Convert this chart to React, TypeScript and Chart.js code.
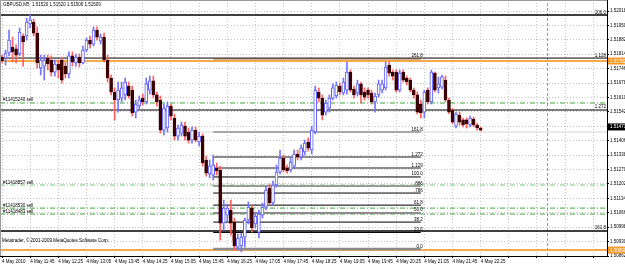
import React, { useEffect, useRef } from "react";
import { Chart, registerables } from "chart.js";

Chart.register(...registerables);

const title = "GBPUSD,M5  1.51520 1.51520 1.51506 1.51509";
const copyright = "Metatrader, \u00a9 2001-2009 MetaQuotes Software Corp.";

// time axis (bar index based, 5-minute bars starting 4 May 11:05)
const xLabels = [
  "4 May 2010", "4 May 11:45", "4 May 12:25", "4 May 13:05", "4 May 13:45", "4 May 14:25",
  "4 May 15:05", "4 May 15:45", "4 May 16:25", "4 May 17:05", "4 May 17:45", "4 May 18:25",
  "4 May 19:05", "4 May 19:45", "4 May 20:25", "4 May 21:05", "4 May 21:45", "4 May 22:25",
];
const xTickIdx = [0, 8, 16, 24, 32, 40, 48, 56, 64, 72, 80, 88, 96, 104, 112, 120, 128, 136, 144, 152, 160, 168];
const xMin = -0.57;
const xMax = 171.9;
const daySeparatorIdx = 155;

// price axis
const yTicks = [
  1.52018, 1.5195, 1.51882, 1.51814, 1.51746, 1.51678, 1.5161, 1.51542, 1.51474,
  1.51406, 1.51338, 1.5127, 1.51202, 1.51134, 1.51066, 1.50998, 1.5093, 1.50862,
];
const yMin = 1.50862;
const yMax = 1.5207;

const opens = [
  1.51801, 1.51796, 1.5182, 1.51848, 1.51839, 1.51815, 1.519, 1.519, 1.51957, 1.51966,
  1.51914, 1.51749, 1.51758, 1.51796, 1.51787, 1.5173, 1.51768, 1.51787, 1.51758, 1.51721,
  1.51806, 1.51773, 1.51801, 1.51773, 1.51834, 1.51881, 1.51862, 1.51928, 1.51876, 1.51895,
  1.51787, 1.51702, 1.51636, 1.51598, 1.51607, 1.51622, 1.51664, 1.51645, 1.51541, 1.5157,
  1.51607, 1.51589, 1.51645, 1.51688, 1.51622, 1.51598, 1.51456, 1.51466, 1.5157, 1.51513,
  1.51428, 1.51442, 1.51475, 1.51447, 1.51409, 1.51456, 1.514, 1.51428, 1.51315, 1.51249,
  1.51244, 1.51277, 1.51268, 1.51017, 1.51055, 1.51079, 1.51022, 1.50904, 1.50909, 1.50951,
  1.51032, 1.51088, 1.51013, 1.50975, 1.51055, 1.51093, 1.51183, 1.51112, 1.51197, 1.51258,
  1.51324, 1.51277, 1.51268, 1.51286, 1.51343, 1.51329, 1.51353, 1.514, 1.51362, 1.51447,
  1.51636, 1.51607, 1.51541, 1.5156, 1.51607, 1.51617, 1.51664, 1.51631, 1.51645, 1.5173,
  1.5165, 1.51631, 1.51674, 1.51636, 1.51645, 1.51631, 1.51589, 1.51622, 1.51645, 1.51655,
  1.51763, 1.5173, 1.5173, 1.51645, 1.5173, 1.51702, 1.51692, 1.51645, 1.51622, 1.51579,
  1.51541, 1.51645, 1.51589, 1.51725, 1.51655, 1.51659, 1.51692, 1.51598, 1.51551, 1.51475,
  1.51527, 1.51504, 1.51504, 1.5148, 1.51508, 1.5148, 1.51466,
];
const highs = [
  1.5181, 1.51834, 1.51928, 1.51895, 1.51858, 1.51938, 1.5191, 1.51985, 1.51999, 1.5198,
  1.51943, 1.5181, 1.5181, 1.5181, 1.51806, 1.51787, 1.51787, 1.51801, 1.51777, 1.51825,
  1.51825, 1.51815, 1.51815, 1.51853, 1.51891, 1.519, 1.51943, 1.51943, 1.5191, 1.51914,
  1.5181, 1.51716, 1.51655, 1.51683, 1.51683, 1.51702, 1.51683, 1.51664, 1.51598, 1.51617,
  1.51626, 1.51702, 1.51711, 1.51711, 1.51636, 1.51617, 1.51579, 1.51589, 1.51579, 1.51532,
  1.5148, 1.51494, 1.51494, 1.51466, 1.51471, 1.51471, 1.51447, 1.51438, 1.51334, 1.51315,
  1.51338, 1.51301, 1.51286, 1.51126, 1.51107, 1.51126, 1.51041, 1.50966, 1.5097, 1.51041,
  1.51117, 1.51102, 1.51069, 1.51079, 1.51112, 1.51192, 1.51202, 1.51216, 1.51291, 1.51362,
  1.51338, 1.51291, 1.51324, 1.51362, 1.51362, 1.51386, 1.51409, 1.51419, 1.51475, 1.51664,
  1.51655, 1.51622, 1.51598, 1.51622, 1.51674, 1.51683, 1.51678, 1.51702, 1.51777, 1.5174,
  1.51664, 1.51692, 1.51683, 1.51655, 1.51655, 1.51645, 1.51631, 1.51692, 1.51692, 1.51777,
  1.51777, 1.5174, 1.5174, 1.5174, 1.5174, 1.51711, 1.51702, 1.51655, 1.51636, 1.51598,
  1.51645, 1.51655, 1.5174, 1.5173, 1.51707, 1.51716, 1.51711, 1.51607, 1.5156, 1.51541,
  1.51541, 1.51513, 1.51513, 1.51522, 1.51518, 1.51489, 1.51471,
];
const lows = [
  1.51773, 1.51763, 1.51806, 1.51777, 1.51773, 1.51806, 1.51758, 1.51881, 1.51938, 1.519,
  1.51749, 1.51716, 1.51692, 1.5174, 1.51711, 1.51711, 1.51702, 1.51678, 1.51702, 1.51702,
  1.51758, 1.51758, 1.51754, 1.51768, 1.51825, 1.51843, 1.51853, 1.51881, 1.51862, 1.51777,
  1.51683, 1.51622, 1.51504, 1.51541, 1.51589, 1.51598, 1.51607, 1.51522, 1.51513, 1.51551,
  1.51574, 1.51579, 1.51626, 1.51607, 1.5157, 1.51442, 1.51433, 1.51447, 1.51504, 1.51409,
  1.51409, 1.51428, 1.51409, 1.51395, 1.51395, 1.514, 1.51381, 1.51286, 1.51239, 1.5123,
  1.5122, 1.51244, 1.50937, 1.50984, 1.51022, 1.50961, 1.5089, 1.5089, 1.50881, 1.50904,
  1.51013, 1.50975, 1.50994, 1.50947, 1.51041, 1.51079, 1.51102, 1.51102, 1.51187, 1.51249,
  1.51258, 1.51253, 1.51258, 1.51277, 1.51315, 1.51315, 1.51338, 1.51357, 1.51343, 1.51438,
  1.51589, 1.51504, 1.51527, 1.51541, 1.51598, 1.51607, 1.51622, 1.51622, 1.51626, 1.51636,
  1.51607, 1.51617, 1.51584, 1.51598, 1.51607, 1.51579, 1.51541, 1.51612, 1.51631, 1.51645,
  1.51711, 1.51692, 1.51636, 1.51636, 1.51683, 1.51669, 1.51636, 1.51607, 1.51532, 1.51513,
  1.51513, 1.51579, 1.51579, 1.51636, 1.51631, 1.5165, 1.51589, 1.51532, 1.51485, 1.51466,
  1.5148, 1.51471, 1.51466, 1.51471, 1.51471, 1.51456, 1.51452,
];
const closes = [
  1.51782, 1.5182, 1.51881, 1.51825, 1.5181, 1.51919, 1.51872, 1.51966, 1.51976, 1.51914,
  1.51773, 1.51787, 1.51787, 1.51768, 1.5173, 1.51768, 1.5174, 1.51692, 1.51721, 1.51806,
  1.51777, 1.51801, 1.51773, 1.51834, 1.51881, 1.51862, 1.51928, 1.51895, 1.51895, 1.51787,
  1.51702, 1.51636, 1.51598, 1.51645, 1.51655, 1.51683, 1.51617, 1.51537, 1.51579, 1.51598,
  1.51589, 1.51674, 1.51688, 1.51622, 1.51589, 1.51456, 1.5156, 1.5157, 1.51522, 1.51428,
  1.51466, 1.5148, 1.51428, 1.51409, 1.51456, 1.51409, 1.51428, 1.51301, 1.51253, 1.51286,
  1.51291, 1.51263, 1.51017, 1.51088, 1.51088, 1.51017, 1.50909, 1.50947, 1.50951, 1.51032,
  1.51093, 1.50994, 1.5105, 1.5106, 1.51093, 1.51173, 1.51112, 1.51197, 1.51258, 1.51324,
  1.51268, 1.51263, 1.51305, 1.51343, 1.51329, 1.51371, 1.51395, 1.51371, 1.51456, 1.51645,
  1.51607, 1.51527, 1.51584, 1.51607, 1.51655, 1.51669, 1.51636, 1.51683, 1.5173, 1.51645,
  1.51622, 1.51674, 1.51622, 1.51612, 1.51622, 1.51589, 1.51617, 1.51674, 1.51674, 1.51754,
  1.51725, 1.51711, 1.51645, 1.51725, 1.51692, 1.51683, 1.51645, 1.51622, 1.51541, 1.51537,
  1.51636, 1.51589, 1.5173, 1.51645, 1.51674, 1.51707, 1.51598, 1.51541, 1.51494, 1.51532,
  1.51494, 1.5148, 1.51485, 1.51513, 1.5148, 1.51466, 1.51456,
];

// Fibonacci retracement drawn from the low of the drop
const fibLevels = [1.50895, 1.50973, 1.51022, 1.51065, 1.51102, 1.51159, 1.51192, 1.51235, 1.51277, 1.51329, 1.51447, 1.51792];
const fibLabels = ["0.0", "23.6", "38.2", "50.0", "61.8", ".786", ".886", "100.0", "1.129", "1.272", "161.8", "261.8"];
const fibStartIdx = 60;
const fibEndIdx = 119;

// second Fibonacci object (full width levels)
const fib2Levels = [1.51999, 1.51796, 1.51551, 1.5098];
const fib2Labels = ["100.0", "1.128", "1.272", "161.8"];

// pending order lines
const orderPrices = [1.51584, 1.51197, 1.51088, 1.5106];
const orderLabels = ["#11415240 sell", "#11418857 sell", "#11418530 sell", "#11418483 sell"];

// horizontal price lines (orange)
const orangeLevels = [1.51782, 1.5089];
const faintLevel = 1.51447;
const bidPrice = 1.51471;

// red dotted trend segment
const trendIdx = [64.5, 66];
const trendPrices = [1.51046, 1.50899];

const FONT = '4.5px "Liberation Sans"';

export default function App() {
  const ref = useRef<HTMLCanvasElement>(null);

  useEffect(() => {
    document.body.style.margin = "0";
    const canvas = ref.current!;
    const idx = closes.map((_, i) => i);
    const bull = idx.map((i) => closes[i] >= opens[i]);

    const hline = (y: number, x0: number, x1: number, color: string, width: number, dash: number[], order: number) => ({
      type: "line" as const,
      data: [{ x: x0, y }, { x: x1, y }],
      borderColor: color,
      borderWidth: width,
      borderDash: dash,
      pointRadius: 0,
      fill: false,
      tension: 0,
      order,
    });

    const fibColors = ["#8c8c8c", "#000", "#000", "#8c8c8c", "#000", "#000", "#9a9a9a", "#000", "#8c8c8c", "#8c8c8c", "#a8a8a8", "#7a4a1a"];
    const fibWidths = [2.5, 1, 1, 2, 1, 1, 2, 1, 2, 2, 2, 1];

    const datasets: any[] = [
      {
        type: "bar",
        data: idx.map((i) => ({ x: i, y: [opens[i], closes[i]] })),
        backgroundColor: idx.map((i) => (bull[i] ? "#ffffff" : "#3d0000")),
        borderColor: idx.map((i) => (bull[i] ? "#5a5aff" : "#3d0000")),
        borderWidth: 1,
        borderSkipped: false,
        barThickness: 3,
        minBarLength: 1,
        grouped: false,
        order: 0,
      },
      {
        type: "bar",
        data: idx.map((i) => ({ x: i, y: [lows[i], highs[i]] })),
        backgroundColor: idx.map((i) => (bull[i] ? "#7474ff" : "#ff5f5f")),
        borderWidth: 0,
        barThickness: 1,
        grouped: false,
        order: 1,
      },
    ];
    fibLevels.forEach((lv, k) => datasets.push(hline(lv, fibStartIdx, fibEndIdx, fibColors[k], fibWidths[k], [], 2)));
    datasets.push({
      type: "line",
      data: [{ x: trendIdx[0], y: trendPrices[0] }, { x: trendIdx[1], y: trendPrices[1] }],
      borderColor: "#ff3030",
      borderWidth: 1,
      borderDash: [1, 1],
      pointRadius: 0,
      order: 2,
    });
    orderPrices.forEach((p, k) =>
      datasets.push(hline(p, xMin, xMax, k === 1 ? "#7cc47c" : "#3ea63e", 1, [5, 2, 1, 2], 3))
    );
    const fib2Colors = ["#000", "#000", "#7c7c7c", "#000"];
    const fib2Widths = [1.5, 1, 2, 1.5];
    fib2Levels.forEach((p, k) => datasets.push(hline(p, xMin, xMax, fib2Colors[k], fib2Widths[k], [], 4)));
    orangeLevels.forEach((p) => datasets.push(hline(p, xMin, xMax, "#f5a94a", 2, [], 5)));
    datasets.push(hline(faintLevel, xMin, xMax, "#d6d6d6", 1, [], 6));
    datasets.push({
      type: "line",
      data: [{ x: daySeparatorIdx, y: yMin }, { x: daySeparatorIdx, y: yMax }],
      borderColor: "#9a9a9a",
      borderWidth: 1,
      borderDash: [3, 2],
      pointRadius: 0,
      order: 7,
    });

    const overlay = {
      id: "overlay",
      afterDraw(chart: any) {
        const { ctx, chartArea: a, scales } = chart;
        const xs = scales.x;
        const ys = scales.y;
        ctx.save();
        // frame
        ctx.lineWidth = 1;
        ctx.strokeStyle = "#9a9a9a";
        ctx.beginPath();
        ctx.moveTo(a.left + 0.5, a.bottom);
        ctx.lineTo(a.left + 0.5, a.top + 0.5);
        ctx.lineTo(a.right, a.top + 0.5);
        ctx.stroke();
        ctx.strokeStyle = "#000";
        ctx.beginPath();
        ctx.moveTo(a.left, a.bottom + 0.5);
        ctx.lineTo(a.right + 0.5, a.bottom + 0.5);
        ctx.lineTo(a.right + 0.5, a.top);
        ctx.stroke();

        ctx.font = FONT;
        ctx.fillStyle = "#000";
        ctx.textBaseline = "alphabetic";
        // fib labels
        ctx.textAlign = "right";
        const fx = xs.getPixelForValue(fibEndIdx) + 2;
        fibLevels.forEach((lv, k) => ctx.fillText(fibLabels[k], fx, ys.getPixelForValue(lv) - 1.5));
        fib2Levels.forEach((lv, k) => ctx.fillText(fib2Labels[k], a.right - 1, ys.getPixelForValue(lv) - 1.5));
        // order labels
        ctx.textAlign = "left";
        orderPrices.forEach((p, k) => ctx.fillText(orderLabels[k], 3, ys.getPixelForValue(p) - 1.5));
        // title + copyright
        ctx.textBaseline = "middle";
        ctx.fillText(title, 3, a.top + 4.5);
        ctx.fillText(copyright, 2, a.bottom - 15);
        // axis price boxes
        const box = (p: number, bg: string) => {
          const py = ys.getPixelForValue(p);
          ctx.fillStyle = bg;
          ctx.fillRect(a.right + 1, py - 3.5, 30, 7);
          ctx.fillStyle = "#fff";
          ctx.fillText(p.toFixed(5), a.right + 3, py + 0.3);
        };
        orangeLevels.forEach((p) => box(p, "#f59a2c"));
        box(bidPrice, "#000");
        ctx.restore();
      },
    };

    const tickFont = { size: 4.5, family: "Liberation Sans" };
    const chart = new Chart(canvas, {
      type: "bar",
      data: { datasets },
      plugins: [overlay],
      options: {
        animation: false,
        responsive: false,
        maintainAspectRatio: false,
        events: [],
        layout: { padding: 0 },
        plugins: { legend: { display: false }, tooltip: { enabled: false } },
        scales: {
          x: {
            type: "linear",
            min: xMin,
            max: xMax,
            offset: false,
            grid: { offset: false, color: "#c4c4c4", tickColor: "#000", tickLength: 2, lineWidth: 1 },
            border: { display: false, dash: [1, 2] },
            afterBuildTicks: (s: any) => {
              s.ticks = xTickIdx.map((v) => ({ value: v }));
            },
            afterFit: (s: any) => {
              s.height = 10;
              s.paddingLeft = 0;
              s.paddingRight = 0;
            },
            ticks: {
              autoSkip: false,
              maxRotation: 0,
              minRotation: 0,
              align: "start",
              padding: 1,
              font: tickFont,
              color: "#000",
              callback: (v: any) => {
                const k = xTickIdx.indexOf(Number(v));
                return k >= 0 && k < xLabels.length ? xLabels[k] : "";
              },
            },
          },
          y: {
            type: "linear",
            position: "right",
            min: yMin,
            max: yMax,
            beginAtZero: false,
            grid: { color: "#c4c4c4", tickColor: "#000", tickLength: 2, lineWidth: 1 },
            border: { display: false, dash: [1, 2] },
            afterBuildTicks: (s: any) => {
              s.ticks = yTicks.map((v) => ({ value: v }));
            },
            afterFit: (s: any) => {
              s.width = 18;
              s.paddingTop = 0;
              s.paddingBottom = 0;
            },
            ticks: {
              autoSkip: false,
              padding: 1,
              font: tickFont,
              color: "#000",
              callback: (v: any) => Number(v).toFixed(5),
            },
          },
        },
      } as any,
    });
    return () => chart.destroy();
  }, []);

  return <canvas ref={ref} width={625} height={266} style={{ display: "block", width: 625, height: 266 }} />;
}
